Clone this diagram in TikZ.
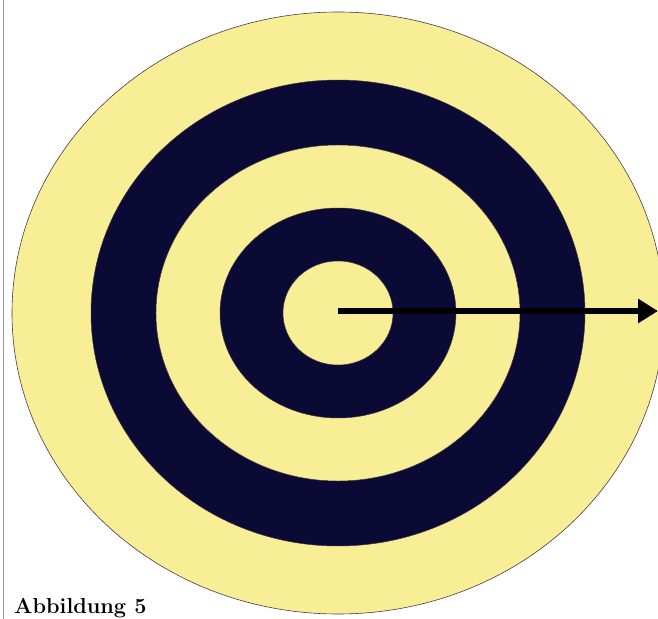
\documentclass[tikz,border=0pt]{standalone}
\usepackage{tikz}
\usetikzlibrary{arrows.meta}

\definecolor{ringyellow}{RGB}{248,238,150}
\definecolor{ringnavy}{RGB}{10,10,52}
\definecolor{rimline}{RGB}{70,55,70}

\begin{document}
\begin{tikzpicture}[x=0.03cm, y=-0.03cm]
    % Frame of the picture
    \useasboundingbox (0,0) rectangle (658,619);
    \clip (0,0) rectangle (658,619);
    \draw[color={rgb,255:red,150;green,148;blue,176}, line width=0.6pt] (3,0) -- (3,619);

    % Rings, from outside in
    \coordinate (centre) at (338,313);
    \draw[fill=ringyellow, draw=rimline, line width=0.5pt] (centre) ellipse [x radius=326, y radius=301];
    \draw[fill=ringnavy, draw=rimline, line width=0.4pt] (centre) ellipse [x radius=247, y radius=233];
    \draw[fill=ringyellow, draw=rimline, line width=0.4pt] (centre) ellipse [x radius=182, y radius=168];
    \draw[fill=ringnavy, draw=rimline, line width=0.4pt] (centre) ellipse [x radius=118, y radius=105];
    \draw[fill=ringyellow, draw=rimline, line width=0.4pt] (centre) ellipse [x radius=55, y radius=52];

    % Arrow out of the middle
    \coordinate (start) at (338,311);
    \coordinate (tip) at (658,311);
    \draw[-{Triangle[length=0.6cm, width=0.7cm]}, line width=4.6pt] (start) -- (tip);

    % Caption
    \node[anchor=base west, font=\bfseries\fontsize{18.5}{22}\selectfont, inner sep=0pt] (caption) at (14,613) {Abbildung 5};
\end{tikzpicture}
\end{document}
